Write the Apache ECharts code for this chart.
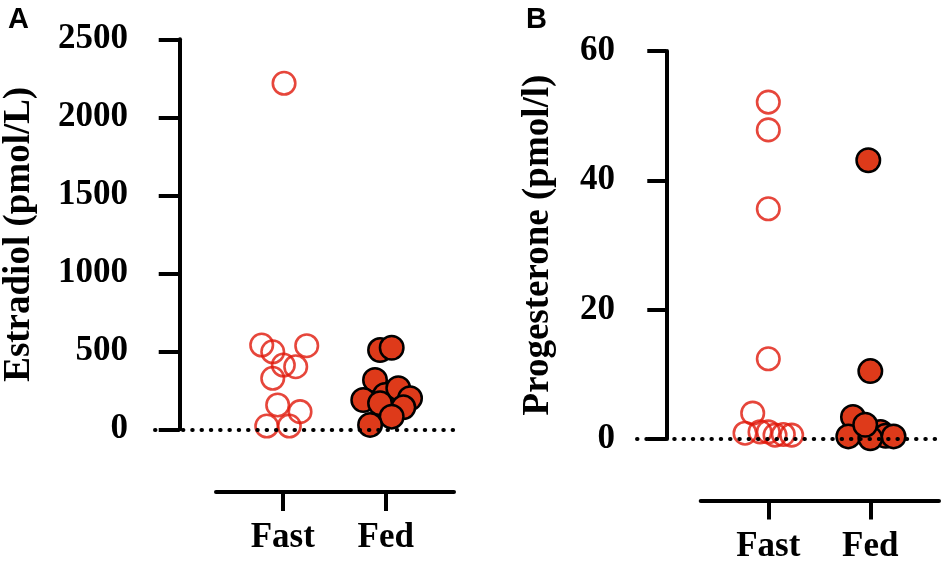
<!DOCTYPE html>
<html>
<head>
<meta charset="utf-8">
<script src="https://cdn.jsdelivr.net/npm/echarts@6/dist/echarts.min.js"></script>
<style>
html,body{margin:0;padding:0;background:#fff;}
#chart{width:945px;height:562px;}
</style>
</head>
<body>
<div id="chart"></div>
<script>
// ---- data ----
var categories = ['Fast', 'Fed'];
var estradiolTicks = [0, 500, 1000, 1500, 2000, 2500];
var progesteroneTicks = [0, 20, 40, 60];

// Panel A: Estradiol (pmol/L)
var fastEstradiol = [540, 497, 536, 412, 401, 327, 156, 113, 21, 21, 2218];
var fastEstradiolJitter = [-0.204, -0.097, 0.233, 0.006, 0.126, -0.097, -0.049, 0.168, -0.155, 0.064, 0.013];
var fedEstradiol = [508, 523, 316, 188, 220, 263, 167, 199, 141, 81, 28];
var fedEstradiolJitter = [-0.055, 0.058, -0.104, -0.218, -0.007, 0.122, -0.055, 0.236, 0.171, 0.058, -0.152];

// Panel B: Progesterone (pmol/l)
var fastProgesterone = [52.1, 47.8, 35.6, 12.4, 4.0, 0.9, 1.1, 1.1, 0.6, 0.7, 0.6];
var fastProgesteroneJitter = [0, 0, 0, 0, -0.153, -0.228, -0.081, 0, 0.066, 0.147, 0.229];
var fedProgesterone = [43.1, 10.5, 1.1, 0.5, 3.4, 0.4, 0.1, 2.2, 0.4];
var fedProgesteroneJitter = [-0.02, 0, 0.1, 0.15, -0.17, -0.216, 0, -0.05, 0.228];

function pts(group, vals, jit) {
  return vals.map(function (v, i) { return [group + jit[i], v]; });
}

var serif = '"Liberation Serif", "Times New Roman", serif';
var RED_OPEN = '#E0180A';
var RED_FILL = '#DE3A1A';

function yAxisBase(gridIndex, ticks, name, gap, margin, tickLen) {
  return {
    type: 'value', gridIndex: gridIndex, min: ticks[0], max: ticks[ticks.length - 1],
    interval: ticks[1] - ticks[0],
    name: name, nameLocation: 'middle', nameGap: gap, nameRotate: 90,
    nameTextStyle: { fontFamily: serif, fontWeight: 'bold', fontSize: 37, color: '#000' },
    axisLine: { show: true, lineStyle: { color: '#000', width: 4 } },
    axisTick: { show: true, length: tickLen, lineStyle: { color: '#000', width: 4 } },
    axisLabel: {
      fontFamily: serif, fontWeight: 'bold', fontSize: 35, color: '#000', margin: margin,
      formatter: function (v) { return String(v); }
    },
    splitLine: { show: false }
  };
}
function bottomAxis(gridIndex, min, max, margin) {
  return {
    type: 'value', gridIndex: gridIndex, min: min, max: max, position: 'bottom',
    axisLine: { show: true, onZero: false, lineStyle: { color: '#000', width: 4 } },
    axisTick: { show: true, customValues: [1, 2], length: 19, lineStyle: { color: '#000', width: 4 } },
    axisLabel: {
      customValues: [1, 2], margin: margin,
      fontFamily: serif, fontWeight: 'bold', fontSize: 35, color: '#000',
      formatter: function (v) { return categories[Math.round(v) - 1]; }
    },
    splitLine: { show: false }
  };
}
function hiddenX(gridIndex, min, max) {
  return { type: 'value', gridIndex: gridIndex, min: min, max: max, show: false, splitLine: { show: false } };
}
function hiddenY(gridIndex) {
  return { type: 'value', gridIndex: gridIndex, min: 0, max: 1, show: false, splitLine: { show: false } };
}
function zeroLine(xi, yi) {
  return {
    type: 'scatter', xAxisIndex: xi, yAxisIndex: yi, data: [], z: 1, silent: true,
    markLine: {
      silent: true, symbol: ['none', 'none'], label: { show: false },
      lineStyle: { color: '#000', width: 4, type: [0.5, 8.8], cap: 'round' },
      emphasis: { disabled: true },
      data: [{ yAxis: 0 }]
    }
  };
}
function openSeries(xi, yi, data) {
  return {
    type: 'scatter', xAxisIndex: xi, yAxisIndex: yi, data: data, z: 3,
    symbol: 'circle', symbolSize: 22.5,
    itemStyle: { color: 'rgba(255,255,255,0)', borderColor: RED_OPEN, borderWidth: 2.6 }
  };
}
function filledSeries(xi, yi, data) {
  return {
    type: 'scatter', xAxisIndex: xi, yAxisIndex: yi, data: data, z: 4,
    symbol: 'circle', symbolSize: 23.5,
    itemStyle: { color: RED_FILL, borderColor: '#000', borderWidth: 2.5, opacity: 1 }
  };
}

var chart = echarts.init(document.getElementById('chart'), null, { renderer: 'canvas' });
chart.setOption({
  backgroundColor: '#fff',
  animation: false,
  grid: [
    { left: 155, top: 39.3, width: 302, height: 390 },
    { left: 216, top: 490, width: 238, height: 2 },
    { left: 637, top: 51, width: 303, height: 388 },
    { left: 700.7, top: 500, width: 238.3, height: 2 }
  ],
  xAxis: [
    hiddenX(0, -0.240, 2.692),
    bottomAxis(1, 0.352, 2.663, 28),
    hiddenX(2, -0.287, 2.683),
    bottomAxis(3, 0.337, 2.674, 29)
  ],
  yAxis: [
    yAxisBase(0, estradiolTicks, 'Estradiol (pmol/L)', 117, 27, 21),
    hiddenY(1),
    yAxisBase(2, progesteroneTicks, 'Progesterone (pmol/l)', 80, 22, 19),
    hiddenY(3)
  ],
  graphic: [
    { type: 'text', left: 8, top: 5, style: { text: 'A', fontFamily: '"Liberation Sans", Arial, sans-serif', fontWeight: 'bold', fontSize: 29, fill: '#000' } },
    { type: 'text', left: 526, top: 5, style: { text: 'B', fontFamily: '"Liberation Sans", Arial, sans-serif', fontWeight: 'bold', fontSize: 29, fill: '#000' } }
  ],
  series: [
    zeroLine(0, 0),
    openSeries(0, 0, pts(1, fastEstradiol, fastEstradiolJitter)),
    filledSeries(0, 0, pts(2, fedEstradiol, fedEstradiolJitter)),
    zeroLine(2, 2),
    openSeries(2, 2, pts(1, fastProgesterone, fastProgesteroneJitter)),
    filledSeries(2, 2, pts(2, fedProgesterone, fedProgesteroneJitter))
  ]
});
</script>
</body>
</html>
